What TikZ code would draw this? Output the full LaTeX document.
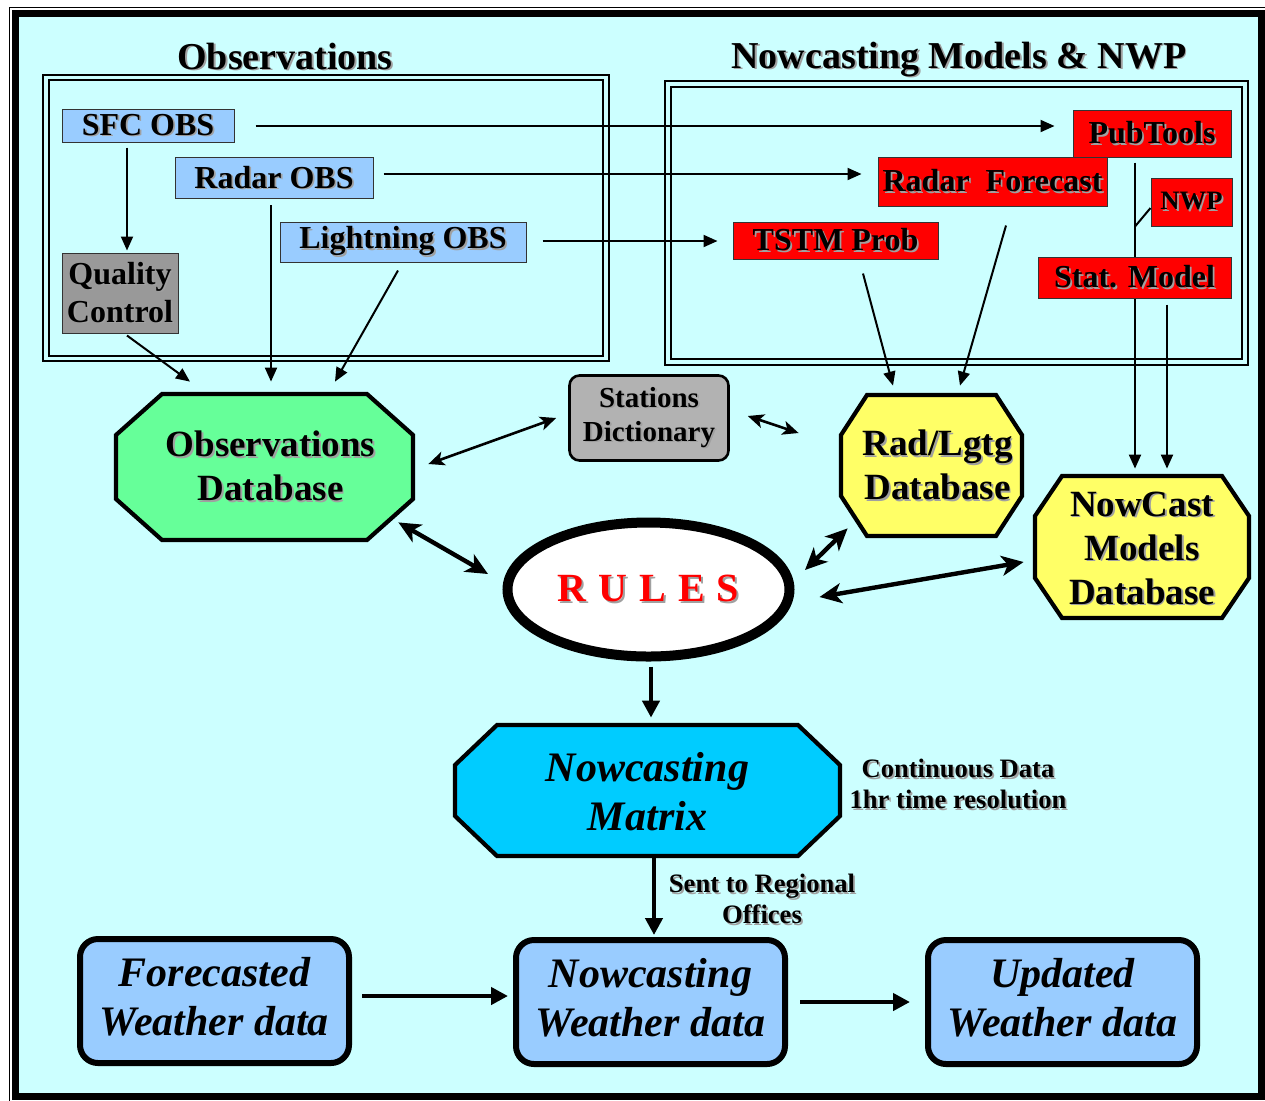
\documentclass[tikz,border=0pt]{standalone}
\usepackage{fontspec}
\setmainfont{Liberation Serif}
\usetikzlibrary{arrows.meta,shapes.geometric,calc}
\definecolor{bgc}{HTML}{CCFFFF}
\definecolor{bluec}{HTML}{99CCFF}
\definecolor{qcgray}{HTML}{999999}
\definecolor{stgray}{HTML}{B2B2B2}
\definecolor{redc}{HTML}{FF0000}
\definecolor{greenc}{HTML}{66FF99}
\definecolor{yellowc}{HTML}{FFFF66}
\definecolor{matc}{HTML}{00CCFF}
\definecolor{shc}{HTML}{A0A0A0}
\pgfdeclarelayer{back}
\pgfdeclarelayer{mid}
\pgfsetlayers{back,mid,main}
\newcommand\sh[1]{\leavevmode\rlap{\color{shc}\kern0.9pt\lower0.9pt\hbox{#1}}#1}
\newcommand\octa[9]{%
  \path[octo,fill=#8] ({#2-#4+#6},{#3-#5}) -- ({#2+#4-#6},{#3-#5}) -- ({#2+#4},{#3-#5+#7}) -- ({#2+#4},{#3+#5-#7}) -- ({#2+#4-#6},{#3+#5}) -- ({#2-#4+#6},{#3+#5}) -- ({#2-#4},{#3+#5-#7}) -- ({#2-#4},{#3-#5+#7}) -- cycle;
  \node[octarea,minimum width=#4pt,minimum height=#5pt] (#1) at (#2,#3) {};
  \node[octtext] (#1-text) at (#1.center) {#9};
}
\begin{document}
\begin{tikzpicture}[x=0.5pt,y=-0.5pt,
  title/.style={inner sep=0pt,font=\fontsize{19}{22}\selectfont\bfseries},
  sbox/.style={draw=black!80,line width=0.5pt,inner sep=0pt,align=center,font=\fontsize{16}{19}\selectfont\bfseries},
  stbox/.style={draw=black,line width=1.3pt,rounded corners=5pt,fill=stgray,inner sep=0pt,align=center,minimum width=79.5pt,minimum height=42.5pt,font=\fontsize{14.5}{17}\selectfont\bfseries},
  octo/.style={draw=black,line width=2.1pt,line join=miter},
  octarea/.style={inner sep=0pt},
  octtext/.style={inner sep=0pt,align=center,font=\fontsize{18.5}{22}\selectfont\bfseries},
  rulesn/.style={ellipse,draw=black,line width=5pt,fill=white,inner sep=0pt,minimum width=141pt,minimum height=67pt,text=redc,font=\fontsize{20}{24}\selectfont\bfseries},
  rbox/.style={draw=black,line width=3pt,rounded corners=9pt,fill=bluec,inner sep=0pt,minimum width=134.5pt,minimum height=62pt},
  rtext/.style={inner sep=0pt,align=center,font=\fontsize{21}{24.5}\selectfont\bfseries\itshape},
  note/.style={inner sep=0pt,align=center,font=\fontsize{13.3}{15.5}\selectfont\bfseries},
  thinarrow/.style={line width=1pt,-{Triangle[length=7pt,width=6pt]}},
  thinline/.style={line width=1pt},
  medarrow/.style={line width=1.3pt,{Stealth[length=8pt,width=7pt,inset=2pt]}-{Stealth[length=8pt,width=7pt,inset=2pt]}},
  thickdbl/.style={line width=2.2pt,{Stealth[length=11pt,width=10pt,inset=3pt]}-{Stealth[length=11pt,width=10pt,inset=3pt]}},
  thickarrow/.style={line width=2.2pt,-{Triangle[length=8.5pt,width=8.5pt]}}
]
\useasboundingbox (0,0) rectangle (1265,1100);
\begin{pgfonlayer}{back}
  \draw[line width=0.5pt] (9,7) rectangle (1275,1110);
  \fill[bgc] (15.5,13.5) rectangle (1261.5,1096);
  \draw[line width=3.5pt] (15.5,13.5) rectangle (1261.5,1096);
\end{pgfonlayer}

% group frames
\draw[line width=1pt] (43,75) rectangle (609,361);
\draw[line width=1pt] (49,80) rectangle (603,356);
\draw[line width=1pt] (665,81) rectangle (1248,365);
\draw[line width=1pt] (671,87) rectangle (1242,359);

\node[title] (ttlobs) at (285,57) {\sh{Observations}};
\node[title] (ttlnc) at (959,60) {\sh{Nowcasting Models \& NWP}};

% small boxes
\node[sbox,fill=bluec,minimum width=86pt,minimum height=16.5pt] (sfc) at (148,125.5) {\sh{SFC OBS}};
\node[sbox,fill=bluec,minimum width=99pt,minimum height=20.5pt] (radobs) at (274,178) {\sh{Radar OBS}};
\node[sbox,fill=bluec,minimum width=123pt,minimum height=20pt] (ltg) at (403,242) {\sh{Lightning OBS}};
\node[sbox,fill=qcgray,minimum width=58pt,minimum height=40pt] (qc) at (120,293) {\sh{Quality}\\\sh{Control}};
\node[sbox,fill=redc,minimum width=79pt,minimum height=23.5pt] (pub) at (1152,133.5) {\sh{PubTools}};
\node[sbox,fill=redc,minimum width=114.5pt,minimum height=24.5pt] (radfc) at (992.5,181.5) {\sh{Radar\ \ Forecast}};
\node[sbox,fill=redc,minimum width=40.5pt,minimum height=24pt,font=\fontsize{13.3}{16}\selectfont\bfseries] (nwp) at (1191.5,202) {\sh{NWP}};
\node[sbox,fill=redc,minimum width=96.5pt,minimum height=20.5pt] (stat) at (1134.5,277.5) {\sh{Stat. Model}};
\node[sbox,fill=redc,minimum width=102.5pt,minimum height=18.5pt] (tstm) at (835.5,240.5) {\sh{TSTM Prob}};

\node[stbox] (stdict) at (649,418) {\sh{Stations}\\\sh{Dictionary}};

% octagons
\begin{scope}[octtext/.append style={xshift=3pt}]
\octa{obsdb}{264.5}{467}{148.5}{73}{46}{41}{greenc}{\sh{Observations}\\\sh{Database}}
\octa{raddb}{931.5}{465.5}{90.5}{70.5}{26}{40}{yellowc}{\sh{Rad/Lgtg}\\\sh{Database}}
\end{scope}
\begin{scope}[octtext/.append style={yshift=-1pt}]
\octa{ncdb}{1142}{547}{107}{71}{27}{40}{yellowc}{\sh{NowCast}\\\sh{Models}\\\sh{Database}}
\end{scope}
\begin{scope}[octtext/.append style={font=\fontsize{21}{24.5}\selectfont\bfseries\itshape,yshift=-0.5pt}]
\octa{matrix}{647.5}{790.5}{192.5}{65.5}{42}{40}{matc}{Nowcasting\\Matrix}
\end{scope}

\node[rulesn] (rules) at (648.5,589.5) {\sh{R\hspace{6pt}U\hspace{6pt}L\hspace{6pt}E\hspace{6pt}S}};

\node[note] (cont) at (958,785) {\sh{Continuous Data}\\\sh{1hr time resolution}};
\node[note] (sent) at (762,900) {\sh{Sent to Regional}\\\sh{Offices}};

\node[rbox] (fwd) at (214.5,1001) {};
\node[rbox] (nwd) at (650.5,1002) {};
\node[rbox] (uwd) at (1062.5,1002) {};
\node[rtext] (fwd-text) at ($(fwd.center)+(0,-4)$) {Forecasted\\Weather data};
\node[rtext] (nwd-text) at ($(nwd.center)+(0,-4)$) {Nowcasting\\Weather data};
\node[rtext] (uwd-text) at ($(uwd.center)+(0,-4)$) {Updated\\Weather data};

\begin{pgfonlayer}{mid}
  \draw[thinarrow] ($(sfc.east)+(21,0.5)$) -- ($(pub.west)+(-18,-7.5)$);
  \draw[thinarrow] ($(radobs.east)+(10,-4)$) -- ($(radfc.west)+(-16,-7.5)$);
  \draw[thinarrow] ($(ltg.east)+(16,-1)$) -- ($(tstm.west)+(-15,0.5)$);
  \draw[thinarrow] ($(sfc.south)+(-21,5)$) -- ($(qc.north)+(7,-2)$);
  \draw[thinarrow] ($(qc.south)+(7,2)$) -- ($(obsdb.north)+(-74.5,-12)$);
  \draw[thinarrow] ($(radobs.south)+(-3,6)$) -- ($(obsdb.north)+(6.5,-12)$);
  \draw[thinarrow] ($(ltg.south)+(-5,8)$) -- ($(obsdb.north)+(70.5,-12)$);
  \draw[thinarrow] ($(tstm.south)+(27.5,14)$) -- ($(raddb.north)+(-38.5,-9)$);
  \draw[thinarrow] ($(radfc.south)+(13.5,19)$) -- ($(raddb.north)+(28.5,-9)$);
  \draw[thinarrow] ($(pub.south)+(-17,5)$) -- ($(ncdb.north)+(-7,-7)$);
  \draw[thinarrow] ($(stat.south)+(32.5,6)$) -- ($(ncdb.north)+(25,-7)$);
  \draw[thinline] ($(nwp.west)+(0,6)$) -- ($(pub.south)+(-17,69)$);
  \draw[medarrow] ($(obsdb.east)+(15,-3)$) -- ($(stdict.west)+(-12,0)$);
  \draw[medarrow] ($(stdict.east)+(18,-2)$) -- ($(raddb.west)+(-42,-32.5)$);
  \draw[thickdbl] ($(obsdb.south east)+(-15,-18)$) -- ($(rules.west)+(-14.5,-15.5)$);
  \draw[thickdbl] ($(rules.east)+(10.5,-19.5)$) -- ($(raddb.south west)+(7,-8)$);
  \draw[thickdbl] ($(rules.east)+(25,7.5)$) -- ($(ncdb.west)+(-11,15)$);
  \draw[thickarrow] ($(rules.south)+(2.5,5)$) -- ($(matrix.north)+(3.5,-7)$);
  \draw[thickarrow] ($(matrix.south)+(6.5,0)$) -- ($(nwd.north)+(3.5,-2)$);
  \draw[thickarrow] ($(fwd.east)+(10,-5)$) -- ($(nwd.west)+(-5,-6)$);
  \draw[thickarrow] ($(nwd.east)+(12,0)$) -- ($(uwd.west)+(-15,0)$);
\end{pgfonlayer}
\end{tikzpicture}
\end{document}
